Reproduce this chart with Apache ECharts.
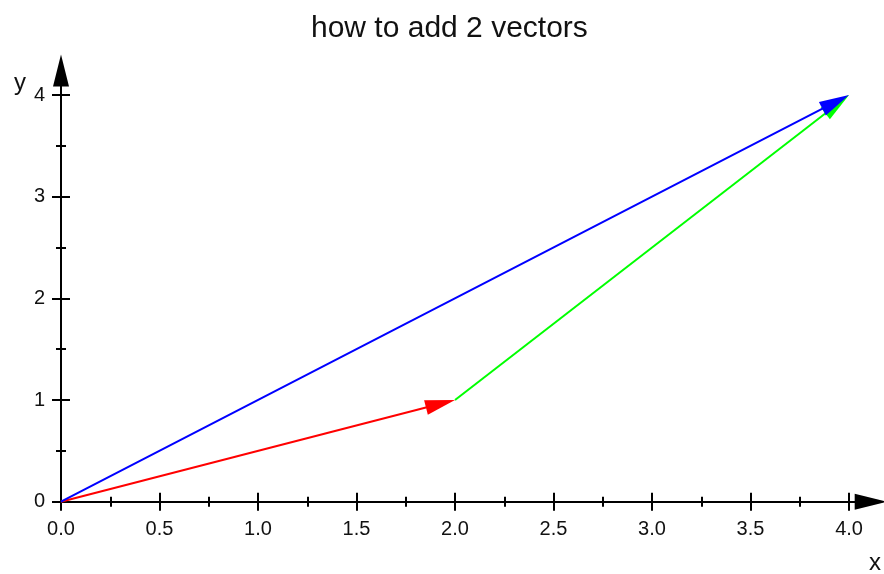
<!DOCTYPE html>
<html>
<head>
<meta charset="utf-8">
<script src="https://cdn.jsdelivr.net/npm/echarts@6/dist/echarts.min.js"></script>
<style>
html,body{margin:0;padding:0;background:#fff;}
#chart{width:884px;height:574px;}
</style>
</head>
<body>
<div id="chart"></div>
<script>
// Chart data
const titleText = 'how to add 2 vectors';
const vectorNames = ['a', 'b', 'a + b'];
const vecStartX = [0, 2, 0];
const vecStartY = [0, 1, 0];
const vecEndX = [2, 4, 4];
const vecEndY = [1, 4, 4];
const vecColors = ['#ff0000', '#00ff00', '#0000ff'];
const xMajorTicks = [0, 0.5, 1, 1.5, 2, 2.5, 3, 3.5, 4];
const xMinorTicks = [0.25, 0.75, 1.25, 1.75, 2.25, 2.75, 3.25, 3.75];
const yMajorTicks = [0, 1, 2, 3, 4];
const yMinorTicks = [0.5, 1.5, 2.5, 3.5];
const xAxisName = 'x';
const yAxisName = 'y';
const X_MAX = 4.11;
const Y_MAX = 4.24;

const FONT = 'Liberation Sans, Arial, sans-serif';
const chart = echarts.init(document.getElementById('chart'), null, {renderer: 'canvas'});

function makeX(ticks, len, inside, showLine, showLabel) {
  return {
    type: 'value', min: 0, max: X_MAX, position: 'bottom', gridIndex: 0,
    axisLine: showLine ? {show: true, onZero: false, symbol: ['none', 'triangle'], symbolSize: [16, 32],
      lineStyle: {color: '#000', width: 2}} : {show: false, onZero: false},
    axisTick: {show: true, inside: inside, length: len, customValues: ticks, lineStyle: {color: '#000', width: 2}},
    axisLabel: showLabel ? {show: true, customValues: xMajorTicks, formatter: v => v.toFixed(1),
      fontSize: 20, color: '#111', fontFamily: FONT, margin: 18} : {show: false},
    splitLine: {show: false}
  };
}
function makeY(ticks, len, inside, showLine, showLabel) {
  return {
    type: 'value', min: 0, max: Y_MAX, position: 'left', gridIndex: 0,
    axisLine: showLine ? {show: true, onZero: false, symbol: ['none', 'triangle'], symbolSize: [16, 32],
      lineStyle: {color: '#000', width: 2}} : {show: false, onZero: false},
    axisTick: {show: true, inside: inside, length: len, customValues: ticks, lineStyle: {color: '#000', width: 2}},
    axisLabel: showLabel ? {show: true, customValues: yMajorTicks, formatter: v => String(v),
      fontSize: 20, color: '#111', fontFamily: FONT, margin: 16, padding: [5, 0, 0, 0]} : {show: false},
    splitLine: {show: false}
  };
}

const data = vecStartX.map((x, i) => ({
  name: vectorNames[i],
  value: [x, vecStartY[i], vecEndX[i], vecEndY[i]],
  itemStyle: {color: vecColors[i]}
}));

const option = {
  animation: false,
  backgroundColor: '#fff',
  title: [
    {text: titleText, left: 306, top: 9, textStyle: {fontSize: 30, fontWeight: 'normal', color: '#111', fontFamily: FONT}},
    {text: yAxisName, left: 9, top: 66, textStyle: {fontSize: 24, fontWeight: 'normal', color: '#111', fontFamily: FONT}},
    {text: xAxisName, left: 864, top: 546, textStyle: {fontSize: 24, fontWeight: 'normal', color: '#111', fontFamily: FONT}}
  ],
  grid: {left: 61, right: 13.3, top: 70.6, bottom: 72.3, containLabel: false},
  xAxis: [
    makeX(xMajorTicks, 9, false, true, true),
    makeX(xMajorTicks, 9, true, false, false),
    makeX(xMinorTicks, 5, false, false, false),
    makeX(xMinorTicks, 5, true, false, false)
  ],
  yAxis: [
    makeY(yMajorTicks, 9, false, true, true),
    makeY(yMajorTicks, 9, true, false, false),
    makeY(yMinorTicks, 5, false, false, false),
    makeY(yMinorTicks, 5, true, false, false)
  ],
  series: [{
    type: 'custom',
    coordinateSystem: 'cartesian2d',
    xAxisIndex: 0, yAxisIndex: 0,
    clip: false,
    encode: {x: [0, 2], y: [1, 3]},
    data: data,
    renderItem: function (params, api) {
      const p1 = api.coord([api.value(0), api.value(1)]);
      const p2 = api.coord([api.value(2), api.value(3)]);
      const color = api.visual('color');
      const dx = p2[0] - p1[0], dy = p2[1] - p1[1];
      const len = Math.hypot(dx, dy);
      const ux = dx / len, uy = dy / len;
      const L = 30, W = 7.5;
      const bx = p2[0] - ux * L, by = p2[1] - uy * L;
      return {
        type: 'group',
        children: [
          {type: 'line', shape: {x1: p1[0], y1: p1[1], x2: bx + ux * 4, y2: by + uy * 4},
            style: {stroke: color, lineWidth: 2}},
          {type: 'polygon', shape: {points: [[p2[0], p2[1]], [bx - uy * W, by + ux * W], [bx + uy * W, by - ux * W]]},
            style: {fill: color}}
        ]
      };
    }
  }]
};
chart.setOption(option);
</script>
</body>
</html>
